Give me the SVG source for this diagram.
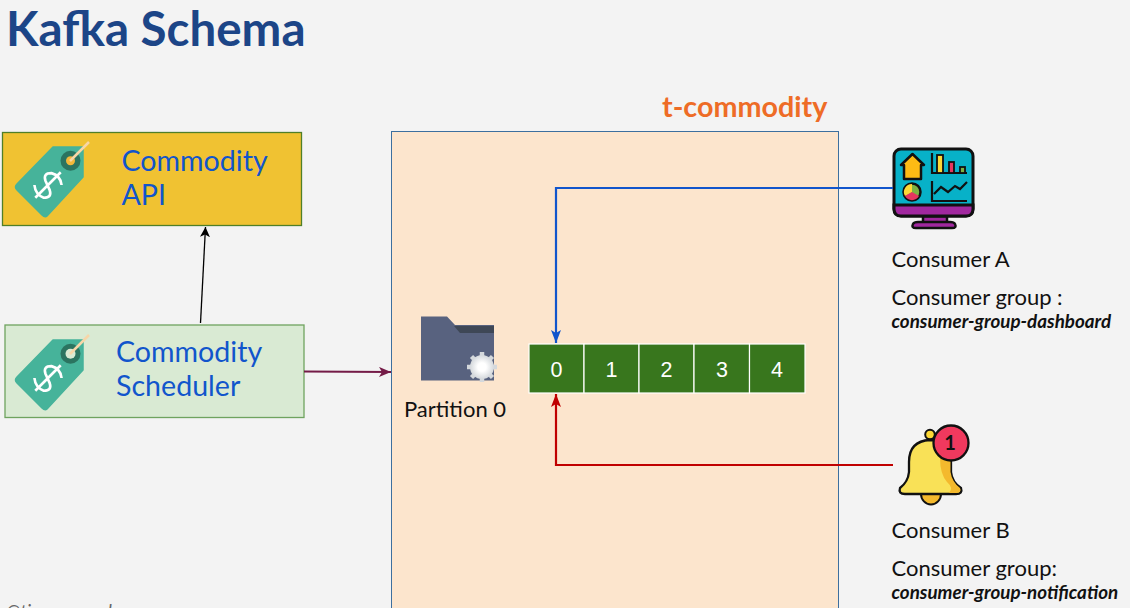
<svg xmlns="http://www.w3.org/2000/svg" width="1130" height="608" viewBox="0 0 1130 608">
<style>
text{font-family:Lato,"Liberation Sans",sans-serif}
.t{font-size:22px;fill:#111}
.g{font-size:18.8px;font-weight:700;font-style:italic;fill:#111}
.b{font-size:28.6px;fill:#1155cc}
.n{font-size:21.5px;fill:#fff;text-anchor:middle;font-family:"Liberation Sans",sans-serif}
.c{fill:#38761d;stroke:#fff;stroke-width:1.2}
.l{fill:none;stroke-width:2.2}
.k{stroke:#111}
</style>
<defs>
<radialGradient id="glow"><stop offset="0.35" stop-color="#fff"/><stop offset="1" stop-color="#d4d8dc"/></radialGradient>
<marker id="ak" markerUnits="userSpaceOnUse" markerWidth="10" markerHeight="12" refX="10" refY="5" orient="auto"><path d="M0 0L10 5L0 10L2.500 5Z" fill="#000"/></marker>
<marker id="am" markerUnits="userSpaceOnUse" markerWidth="14" markerHeight="12" refX="12" refY="5" orient="auto"><path d="M0 0L12 5L0 10L3 5Z" fill="#741b47"/></marker>
<marker id="ab" markerUnits="userSpaceOnUse" markerWidth="14" markerHeight="12" refX="13" refY="5" orient="auto"><path d="M0 0L13 5L0 10L3 5Z" fill="#1155cc"/></marker>
<marker id="ar" markerUnits="userSpaceOnUse" markerWidth="14" markerHeight="12" refX="13" refY="5" orient="auto"><path d="M0 0L13 5L0 10L3 5Z" fill="#c00000"/></marker>
<g id="tag">
<path d="M53 -8H83V22L47 61Q45 63 42 60L17 35Q14 32 17 29Z" fill="#46b39a" stroke="#46b39a" stroke-width="1.500" stroke-linejoin="round"/>
<circle cx="70.500" cy="5.700" r="10" fill="#2b7460"/>
<g transform="translate(48 30) rotate(45) scale(1.200)" fill="none" stroke="#fff" stroke-width="2.200">
<path d="M8 -8Q2 -13 -5 -9Q-10 -4 -4 -1L4 2Q10 5 5 10Q-2 13 -8 8M0 -15V15"/>
</g>
</g>
</defs>
<rect width="1130" height="608" fill="#f3f3f3"/>
<text id="title" x="6" y="46" font-size="47.500" font-weight="700" fill="#1c4587">Kafka Schema</text>
<text id="footer" x="6" y="618" font-size="18.500" font-style="italic" fill="#666">@timpamungkas</text>
<g id="topic">
<rect x="391.500" y="131.500" width="447" height="490" fill="#fce5cd" stroke="#3d6f9e" stroke-width="1"/>
<text x="662" y="117" font-size="28.700" font-weight="700" fill="#ee6c26">t-commodity</text>
</g>
<g id="commodity-api">
<rect x="2.500" y="132.500" width="299" height="93" fill="#f0c232" stroke="#4f7f28" stroke-width="1.300"/>
<use href="#tag" y="155"/>
<circle cx="70.500" cy="160.700" r="4.500" fill="#f3b83a"/>
<path d="M70 161L89 142" stroke="#f7d6a8" stroke-width="2.500" fill="none"/>
<text class="b" x="121.500" y="171">Commodity</text>
<text class="b" x="121.500" y="205">API</text>
</g>
<g id="commodity-scheduler">
<rect x="5" y="325" width="299" height="92.500" fill="#d9ead3" stroke="#6fa35f" stroke-width="1.300"/>
<use href="#tag" y="348"/>
<circle cx="70.500" cy="353.700" r="5" fill="#d9ead3"/>
<path d="M70 354L89 335" stroke="#f7d6a8" stroke-width="2.500" fill="none"/>
<text class="b" x="116" y="362">Commodity</text>
<text class="b" x="116" y="396">Scheduler</text>
</g>
<g id="partition-0">
<path d="M421 316.500H447L455 325H494V380.500H421Z" fill="#58627f"/>
<path d="M454 326H494V333H460Z" fill="#3e4756"/>
<g transform="translate(482 367)">
<path d="M0 -15V15M-15 0H15M-10.500 -10.500L10.500 10.500M-10.500 10.500L10.500 -10.500" stroke="#d4d8dc" stroke-width="4.500"/>
<circle r="12" fill="url(#glow)"/>
</g>
<text class="t" x="404" y="417">Partition 0</text>
</g>
<g id="offsets">
<rect class="c" x="529" y="344" width="55" height="49"/>
<rect class="c" x="584" y="344" width="55" height="49"/>
<rect class="c" x="639" y="344" width="55" height="49"/>
<rect class="c" x="694" y="344" width="55.500" height="49"/>
<rect class="c" x="749.500" y="344" width="55.500" height="49"/>
<text class="n" x="556.500" y="376.500">0</text>
<text class="n" x="611.500" y="376.500">1</text>
<text class="n" x="666.500" y="376.500">2</text>
<text class="n" x="722" y="376.500">3</text>
<text class="n" x="777" y="376.500">4</text>
</g>
<g id="consumer-a">
<path d="M923 216H947V223H923Z" fill="#a1289f" class="k" stroke-width="2.500"/>
<path d="M916 228Q911 228 913 224Q914 222 918 222H950Q954 222 955 224Q957 228 952 228Z" fill="#a1289f" class="k" stroke-width="2.500"/>
<rect x="894" y="149" width="79" height="67" rx="7" fill="#07b1c8" class="k" stroke-width="3"/>
<path d="M894 205H973V209Q973 216 966 216H901Q894 216 894 209Z" fill="#a1289f" class="k" stroke-width="3"/>
<path d="M901 165L912.500 154L924 165H921V179H904V165Z" fill="#fdbb14" class="k" stroke-width="2.500" stroke-linejoin="round"/>
<circle cx="912" cy="192" r="8.500" fill="#7cb342" class="k" stroke-width="2.500"/>
<path d="M912 192L912 184A8 8 0 0 0 905 196Z" fill="#fdd835"/>
<path d="M912 192L905 196A8 8 0 0 0 919 196Z" fill="#e5365f"/>
<path d="M932 153V173H967" fill="none" class="k" stroke-width="2.200"/>
<rect x="937" y="155" width="6" height="18" fill="#fdd835" class="k" stroke-width="1.800"/>
<rect x="949" y="162" width="5" height="11" fill="#e5365f" class="k" stroke-width="1.800"/>
<rect x="960" y="167" width="5" height="6" fill="#7cb342" class="k" stroke-width="1.800"/>
<path d="M932 181V201H967M934 194L941 187L948 192L955 186L960 189L967 182" fill="none" class="k" stroke-width="2.200"/>
<text class="t" x="891.500" y="267">Consumer A</text>
<text class="t" x="891.500" y="305">Consumer group :</text>
<text class="g" x="891.500" y="328">consumer-group-dashboard</text>
</g>
<g id="consumer-b">
<circle cx="930" cy="434.500" r="4.800" fill="#fdd835" class="k" stroke-width="2"/>
<path d="M921 494A10 10.500 0 0 0 941 494Z" fill="#f4b92d" class="k" stroke-width="2"/>
<path d="M909 462Q909 441 930 440Q951 441 951 462V472Q952 482 961 488Q963 494 956 494H905Q898 494 900 488Q908 482 909 472Z" fill="#f9e157" class="k" stroke-width="2.300"/>
<path d="M940 458H950.500V472Q952 482 960 488Q962 493 956 493H949Q954 488 947 482Q940 474 940 458Z" fill="#f4b92d"/>
<circle cx="951" cy="443" r="17.500" fill="#f0395e" class="k" stroke-width="2.300"/>
<text x="950" y="450" font-size="20" font-weight="700" fill="#111" text-anchor="middle">1</text>
<text class="t" x="891.500" y="538">Consumer B</text>
<text class="t" x="891.500" y="576">Consumer group:</text>
<text class="g" x="891.500" y="599">consumer-group-notification</text>
</g>
<g id="connectors">
<path class="l" style="stroke-width:1.300;stroke:#000" d="M200.500 323L205.500 227" marker-end="url(#ak)"/>
<path class="l" stroke="#741b47" d="M304 371.500L391 372" marker-end="url(#am)"/>
<path class="l" stroke="#1155cc" d="M893 188H556V343" marker-end="url(#ab)"/>
<path class="l" stroke="#c00000" d="M893 465H556V394" marker-end="url(#ar)"/>
</g>
</svg>
